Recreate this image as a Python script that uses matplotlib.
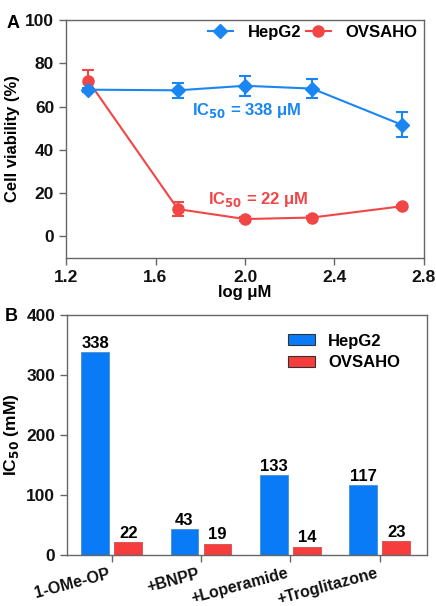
import matplotlib
matplotlib.use("Agg")
import matplotlib.pyplot as plt
import numpy as np
from matplotlib.patches import Patch
from matplotlib.lines import Line2D

plt.rcParams['font.family'] = ['Liberation Sans', 'DejaVu Sans']
plt.rcParams['font.weight'] = 'bold'
plt.rcParams['mathtext.default'] = 'bf'

# ---- Panel A data ----
log_conc = [1.3, 1.7, 2.0, 2.3, 2.7]
hepg2_via = [67.8, 67.5, 69.6, 68.3, 51.6]
hepg2_err = [1.0, 3.5, 4.5, 4.5, 5.8]
ovsaho_via = [71.8, 12.6, 8.0, 8.7, 13.9]
ovsaho_err = [5.0, 3.3, 0.8, 0.8, 0.8]
xticks_a = [1.2, 1.6, 2.0, 2.4, 2.8]
yticks_a = [0, 20, 40, 60, 80, 100]

# ---- Panel B data ----
conditions = ['1-OMe-OP', '+BNPP', '+Loperamide', '+Troglitazone']
hepg2_ic50 = [338, 43, 133, 117]
ovsaho_ic50 = [22, 19, 14, 23]
yticks_b = [0, 100, 200, 300, 400]

blue = '#1a86f2'
red = '#f24646'
bar_blue = '#0a7bf7'
bar_red = '#f63c3c'
spine_c = '#666666'

W, H = 436, 606
fig = plt.figure(figsize=(W/100, H/100), dpi=100)

def style(ax, xpad=3.5, xsize=12.5):
    for s in ax.spines.values():
        s.set_color(spine_c)
        s.set_linewidth(1.0)
    ax.tick_params(colors=spine_c, labelcolor='#111111', labelsize=12.5, length=5, width=1.0)
    ax.tick_params(axis='x', pad=xpad, labelsize=xsize)
    for lab in ax.get_xticklabels() + ax.get_yticklabels():
        lab.set_fontweight('bold')

# Panel A
axA = fig.add_axes([66/W, 1-258/H, (424-66)/W, (258-20)/H])
axA.errorbar(log_conc, hepg2_via, yerr=hepg2_err, color=blue, marker='D', ms=7,
             lw=1.5, capsize=4, elinewidth=1.5, capthick=1.5, label='HepG2', zorder=3)
axA.errorbar(log_conc, ovsaho_via, yerr=ovsaho_err, color=red, marker='o', ms=8,
             lw=1.5, capsize=4, elinewidth=1.5, capthick=1.5, label='OVSAHO', zorder=2)
axA.set_xlim(1.2, 2.8)
axA.set_ylim(-10, 100)
axA.set_xticks(xticks_a)
axA.set_xticklabels([f'{v:.1f}' for v in xticks_a])
axA.set_yticks(yticks_a)
style(axA)
axA.set_xlabel('log μM', fontsize=12, fontweight='bold', labelpad=0)
axA.set_ylabel('Cell viability (%)', fontsize=12, fontweight='bold', labelpad=4)
axA.text(1.765, 58, r'IC$_{50}$ = 338 μM', color=blue, fontsize=12, fontweight='bold', va='center')
axA.text(1.835, 17, r'IC$_{50}$ = 22 μM', color=red, fontsize=12, fontweight='bold', va='center')
hA = [Line2D([], [], color=blue, marker='D', ms=7, lw=1.5),
      Line2D([], [], color=red, marker='o', ms=8, lw=1.5)]
axA.legend(hA, ['HepG2', 'OVSAHO'], loc='upper right', ncol=2, frameon=False,
           prop={'weight': 'bold', 'size': 12}, handlelength=1.5, columnspacing=0.25,
           handletextpad=0.9, bbox_to_anchor=(1.01, 1.02), borderaxespad=0.2)
fig.text(7/W, 1-24/H, 'A', fontsize=13, fontweight='bold', va='center')

# Panel B
axB = fig.add_axes([67/W, 1-555/H, (427-67)/W, (555-315)/H])
x = np.arange(len(conditions))
bw = 0.31
off = 0.185
axB.bar(x - off, hepg2_ic50, bw, color=bar_blue, edgecolor='#4a90d0', lw=0.6, label='HepG2')
axB.bar(x + off, ovsaho_ic50, bw, color=bar_red, edgecolor='#d05050', lw=0.6, label='OVSAHO')
for xi, v in zip(x - off, hepg2_ic50):
    axB.text(xi, v + 2, str(v), ha='center', va='bottom', fontsize=12, fontweight='bold')
for xi, v in zip(x + off, ovsaho_ic50):
    axB.text(xi, v + 2, str(v), ha='center', va='bottom', fontsize=12, fontweight='bold')
axB.set_xlim(-0.5, 3.53)
axB.set_ylim(0, 400)
axB.set_yticks(yticks_b)
axB.set_xticks(x)
axB.set_xticklabels(conditions, rotation=15, ha='right', va='top')
style(axB, xpad=3, xsize=11.5)
axB.set_ylabel(r'IC$_{50}$ (mM)', fontsize=12.5, fontweight='bold', labelpad=4)
hB = [Patch(facecolor=bar_blue, edgecolor='#333333', lw=0.8),
      Patch(facecolor=bar_red, edgecolor='#333333', lw=0.8)]
axB.legend(hB, ['HepG2', 'OVSAHO'], loc='upper right', frameon=False,
           prop={'weight': 'bold', 'size': 12}, handlelength=1.6, handleheight=0.6,
           handletextpad=0.8, labelspacing=0.4, bbox_to_anchor=(0.967, 0.985))
fig.text(5/W, 1-317/H, 'B', fontsize=13, fontweight='bold', va='center')

fig.savefig('out.png', dpi=100)
